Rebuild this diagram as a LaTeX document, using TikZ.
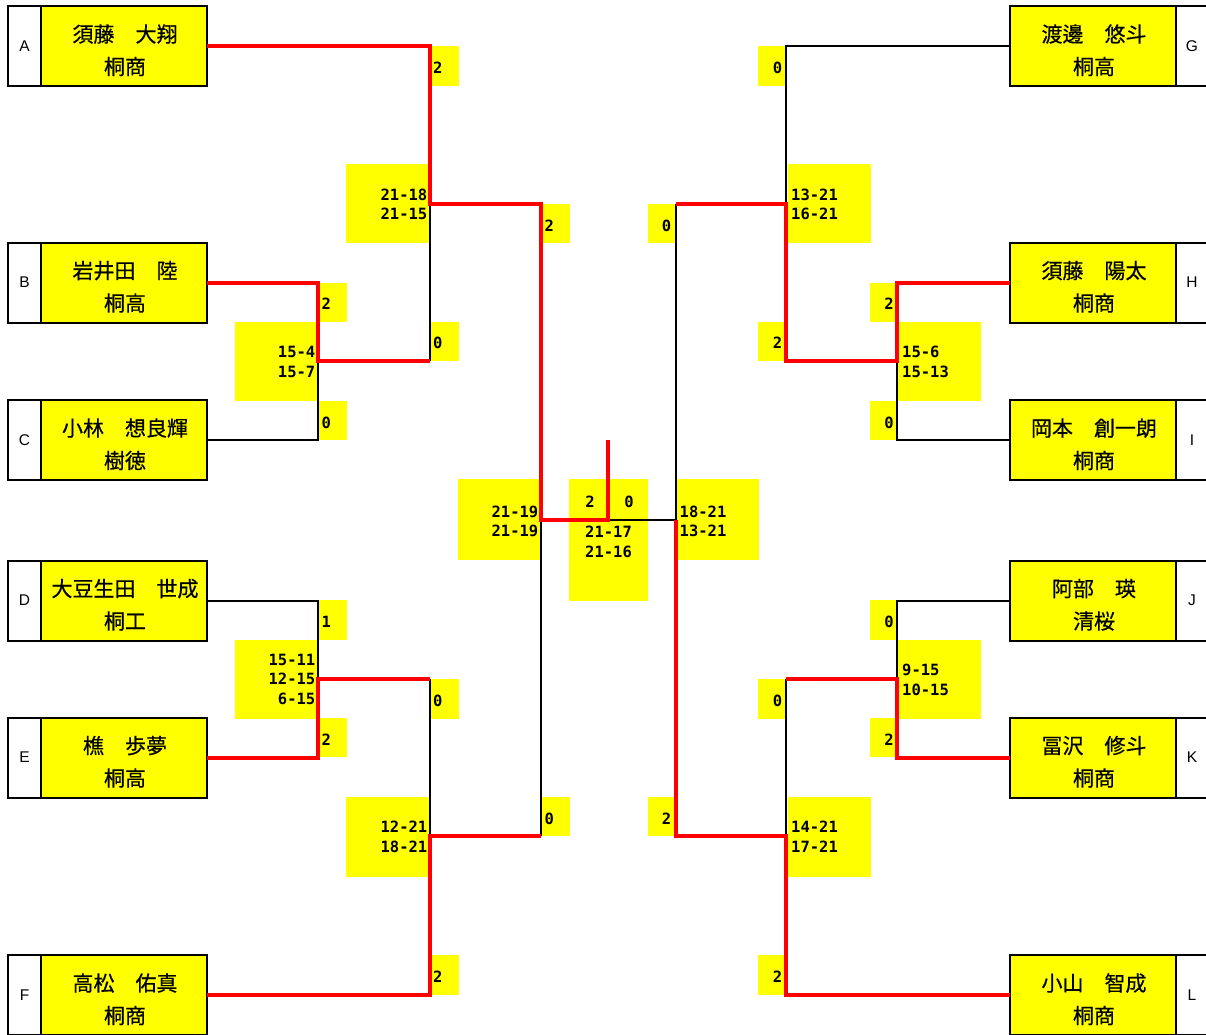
\documentclass[tikz,border=0pt]{standalone}
\usepackage{fontspec}
\newfontfamily\jpfont{Noto Sans CJK JP}[FakeBold=0.5]
\newfontfamily\scorefont{DejaVu Sans Mono}
\newfontfamily\letterfont{Liberation Sans}
\definecolor{boxyellow}{HTML}{FFFF00}
\definecolor{winred}{HTML}{FF0000}
\tikzset{
  namebox/.style={draw, line width=2pt, fill=boxyellow, minimum width=166pt, minimum height=80pt, inner sep=0pt, outer sep=0pt},
  letterbox/.style={draw, line width=2pt, fill=white, minimum width=33pt, minimum height=80pt, inner sep=0pt, outer sep=0pt, font=\letterfont\fontsize{15.5}{15.5}\selectfont},
  rletter/.style={minimum width=30pt, minimum height=80pt, inner sep=0pt, outer sep=0pt, font=\letterfont\fontsize{15.5}{15.5}\selectfont},
  nametext/.style={font=\jpfont\fontsize{21}{21}\selectfont, inner sep=0pt, anchor=base},
  scorebox/.style={fill=boxyellow, draw=none, inner sep=0pt, outer sep=0pt},
  scoretext/.style={font=\scorefont\bfseries\fontsize{15.5}{15.5}\selectfont, inner sep=0pt},
  win/.style={draw=winred, line width=4pt},
  lose/.style={draw=black, line width=2pt},
}
\newcommand\scbox[5]{\node[scorebox,minimum width={(#4-#2)*1pt},minimum height={(#5-#3)*1pt}] (#1) at ({(#2+#4)/2},{(#3+#5)/2}) {};}
\newcommand\scL[4]{\node[scoretext,anchor=base west] (#1) at (#2,#3) {#4};}
\newcommand\scR[4]{\node[scoretext,anchor=base east] (#1) at (#2,#3) {#4};}
\newcommand\scC[4]{\node[scoretext,anchor=base] (#1) at (#2,#3) {#4};}
\newcommand\lplayer[5]{%
  \node[namebox] (#1) at (124,#3) {};
  \node[letterbox] (#1-l) at (24.5,#3) {#2};
  \node[nametext] (#1-n) at (125,#3-4) {#4};
  \node[nametext] (#1-s) at (125,#3+28.5) {#5};}
\newcommand\rplayer[5]{%
  \node[namebox] (#1) at (1093,#3) {};
  \node[rletter] (#1-l) at (1192,#3) {#2};
  \draw[line width=2pt] (#1-l.north west) -- (#1-l.north east) (#1-l.south west) -- (#1-l.south east);
  \node[nametext] (#1-n) at (1094,#3-4) {#4};
  \node[nametext] (#1-s) at (1094,#3+28.5) {#5};}
\begin{document}
\begin{tikzpicture}[x=1pt,y=-1pt]
\useasboundingbox (0,0) rectangle (1206,1034);
% score boxes (left)
\scbox{s1}{430}{46}{459}{86}
\scbox{s2}{346}{164}{430}{243}
\scbox{s3}{318}{283}{347}{322}
\scbox{s4}{235}{322}{318}{401}
\scbox{s5}{318}{401}{347}{440}
\scbox{s6}{430}{322}{459}{361}
\scbox{s7}{541}{204}{570}{243}
\scbox{s8}{458}{479}{541}{560}
\scbox{fbox}{569}{479}{648}{601}
\scbox{s9}{318}{600}{347}{640}
\scbox{s10}{235}{640}{318}{719}
\scbox{s11}{318}{718}{347}{757}
\scbox{s12}{430}{679}{459}{719}
\scbox{s13}{346}{797}{430}{877}
\scbox{s14}{430}{955}{459}{995}
\scbox{s15}{541}{797}{570}{836}
% score boxes (right)
\scbox{r1}{758}{46}{786}{86}
\scbox{r2}{788}{164}{871}{243}
\scbox{r3}{870}{283}{897}{322}
\scbox{r4}{758}{322}{786}{361}
\scbox{r5}{897}{322}{981}{401}
\scbox{r6}{870}{401}{897}{440}
\scbox{r7}{648}{204}{676}{243}
\scbox{r8}{676}{479}{759}{560}
\scbox{r9}{870}{600}{897}{640}
\scbox{r10}{897}{640}{981}{719}
\scbox{r11}{870}{718}{897}{757}
\scbox{r12}{758}{679}{786}{719}
\scbox{r13}{788}{797}{871}{877}
\scbox{r14}{758}{955}{786}{995}
\scbox{r15}{648}{797}{676}{836}
% players
\lplayer{A}{A}{46}{須藤　大翔}{桐商}
\lplayer{B}{B}{282.5}{岩井田　陸}{桐高}
\lplayer{C}{C}{440}{小林　想良輝}{樹徳}
\lplayer{D}{D}{600.5}{大豆生田　世成}{桐工}
\lplayer{E}{E}{757.5}{樵　歩夢}{桐高}
\lplayer{F}{F}{995}{高松　佑真}{桐商}
\rplayer{G}{G}{46}{渡邊　悠斗}{桐高}
\rplayer{H}{H}{282.5}{須藤　陽太}{桐商}
\rplayer{I}{I}{440}{岡本　創一朗}{桐商}
\rplayer{J}{J}{600.5}{阿部　瑛}{清桜}
\rplayer{K}{K}{757.5}{冨沢　修斗}{桐商}
\rplayer{L}{L}{995}{小山　智成}{桐商}
% junctions
\coordinate (m1) at (318,361);
\coordinate (m2) at (430,204);
\coordinate (m3) at (318,679);
\coordinate (m4) at (430,836);
\coordinate (sL) at (541,520);
\coordinate (fin) at (608,520);
\coordinate (champ) at (608,440);
\coordinate (m5) at (897,361);
\coordinate (m6) at (786,204);
\coordinate (m7) at (897,679);
\coordinate (m8) at (786,836);
\coordinate (sR) at (676,520);
% losing lines
\draw[lose] (C.east) -| (m1);
\draw[lose] (m2) -- (m1 -| m2);
\draw[lose] (D.east) -| (m3);
\draw[lose] (m3 -| m4) -- (m4);
\draw[lose] (m4 -| sL) -- (sL);
\draw[lose] (fin) -- (sR);
\draw[lose] (G.west) -| (m6);
\draw[lose] (I.west) -| (m5);
\draw[lose] (m6 -| sR) -- (sR);
\draw[lose] (J.west) -| (m7);
\draw[lose] (m7 -| m8) -- (m8);
% winning lines
\draw[win] (A.east) -| (m2) -- (m2 -| sL) -- (sL) -- (fin) -- (champ);
\draw[win] (B.east) -| (m1) -- (m1 -| m2);
\draw[win] (E.east) -| (m3) -- (m3 -| m4);
\draw[win] (F.east) -| (m4) -- (m4 -| sL);
\draw[win] (H.west) -| (m5) -- (m5 -| m6) -- (m6) -- (m6 -| sR);
\draw[win] (K.west) -| (m7) -- (m7 -| m8);
\draw[win] (L.west) -| (m8) -- (m8 -| sR) -- (sR);
% score texts (left)
\scL{t1}{433}{73}{2}
\scR{t2a}{427.5}{200}{21-18}
\scR{t2b}{427.5}{219.5}{21-15}
\scL{t3}{321.5}{309.5}{2}
\scR{t4a}{315.5}{357.5}{15-4}
\scR{t4b}{315.5}{377}{15-7}
\scL{t5}{321.5}{428}{0}
\scL{t6}{433}{348.5}{0}
\scL{t7}{544.5}{231}{2}
\scR{t8a}{538.5}{517}{21-19}
\scR{t8b}{538.5}{536}{21-19}
\scC{fa}{590}{507}{2}
\scC{fb}{629}{507}{0}
\scC{fc}{608.5}{537}{21-17}
\scC{fd}{608.5}{557}{21-16}
\scL{t9}{321.5}{627}{1}
\scR{t10a}{315.5}{665}{15-11}
\scR{t10b}{315.5}{684.5}{12-15}
\scR{t10c}{315.5}{704}{6-15}
\scL{t11}{321.5}{745}{2}
\scL{t12}{433}{706}{0}
\scR{t13a}{427.5}{832.5}{12-21}
\scR{t13b}{427.5}{852.5}{18-21}
\scL{t14}{433}{982}{2}
\scL{t15}{544.5}{824}{0}
% score texts (right)
\scR{u1}{782.5}{73}{0}
\scL{u2a}{791}{200}{13-21}
\scL{u2b}{791}{219.5}{16-21}
\scR{u3}{894}{309.5}{2}
\scR{u4}{782.5}{348.5}{2}
\scL{u5a}{902}{357.5}{15-6}
\scL{u5b}{902}{377}{15-13}
\scR{u6}{894}{428}{0}
\scR{u7}{671.5}{231}{0}
\scL{u8a}{679.5}{517}{18-21}
\scL{u8b}{679.5}{536}{13-21}
\scR{u9}{894}{627}{0}
\scL{u10a}{902}{675}{9-15}
\scL{u10b}{902}{695}{10-15}
\scR{u11}{894}{745}{2}
\scR{u12}{782.5}{706}{0}
\scL{u13a}{791}{832.5}{14-21}
\scL{u13b}{791}{852.5}{17-21}
\scR{u14}{782.5}{982}{2}
\scR{u15}{671.5}{824}{2}
\end{tikzpicture}
\end{document}
